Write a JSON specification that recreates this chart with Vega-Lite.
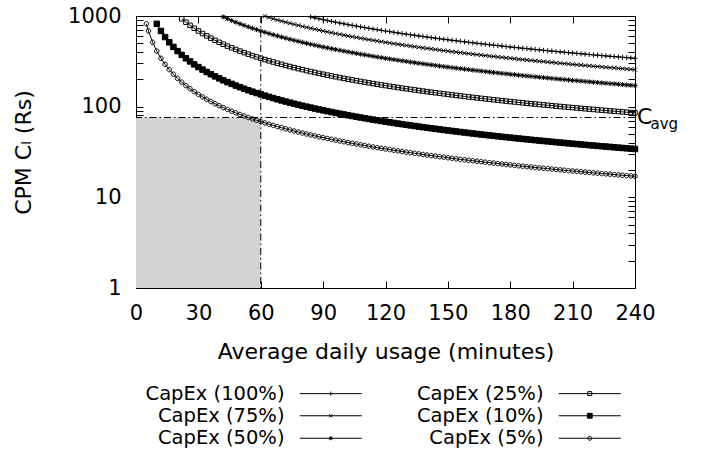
{
  "$schema": "https://vega.github.io/schema/vega-lite/v6.json",
  "width": 499,
  "height": 272,
  "autosize": {"type": "none"},
  "padding": {"left": 136, "top": 16, "right": 69, "bottom": 164},
  "config": {
    "font": "DejaVu Sans",
    "view": {"stroke": "black", "strokeWidth": 1},
    "axis": {"grid": false, "domain": false, "tickColor": "black", "tickWidth": 1, "labelColor": "black", "titleColor": "black", "labelFont": "DejaVu Sans", "titleFont": "DejaVu Sans", "labelFontSize": 21, "titleFontSize": 22, "titleFontWeight": "normal", "labelOverlap": false, "labelFlush": false}
  },
  "datasets": {
    "refs": [{"x0": 0, "x1": 60, "y0": 1, "y1": 76}],
    "note": [{"x": 240, "y": 76, "t": "C", "sub": "avg"}],
    "curves": [
      {"s":"CapEx (5%)","x":5,"y":820},{"s":"CapEx (5%)","x":6,"y":683.3},{"s":"CapEx (5%)","x":8,"y":512.5},{"s":"CapEx (5%)","x":10,"y":410},{"s":"CapEx (5%)","x":12,"y":341.7},{"s":"CapEx (5%)","x":14,"y":292.9},{"s":"CapEx (5%)","x":16,"y":256.3},{"s":"CapEx (5%)","x":18,"y":227.8},{"s":"CapEx (5%)","x":20,"y":205},{"s":"CapEx (5%)","x":22,"y":186.4},{"s":"CapEx (5%)","x":24,"y":170.8},{"s":"CapEx (5%)","x":26,"y":157.7},{"s":"CapEx (5%)","x":28,"y":146.4},{"s":"CapEx (5%)","x":30,"y":136.7},{"s":"CapEx (5%)","x":32,"y":128.1},{"s":"CapEx (5%)","x":34,"y":120.6},{"s":"CapEx (5%)","x":36,"y":113.9},{"s":"CapEx (5%)","x":38,"y":107.9},{"s":"CapEx (5%)","x":40,"y":102.5},{"s":"CapEx (5%)","x":42,"y":97.62},{"s":"CapEx (5%)","x":44,"y":93.18},{"s":"CapEx (5%)","x":46,"y":89.13},{"s":"CapEx (5%)","x":48,"y":85.42},{"s":"CapEx (5%)","x":50,"y":82},{"s":"CapEx (5%)","x":52,"y":78.85},{"s":"CapEx (5%)","x":54,"y":75.93},{"s":"CapEx (5%)","x":56,"y":73.21},{"s":"CapEx (5%)","x":58,"y":70.69},{"s":"CapEx (5%)","x":60,"y":68.33},{"s":"CapEx (5%)","x":62,"y":66.13},{"s":"CapEx (5%)","x":64,"y":64.06},{"s":"CapEx (5%)","x":66,"y":62.12},{"s":"CapEx (5%)","x":68,"y":60.29},{"s":"CapEx (5%)","x":70,"y":58.57},{"s":"CapEx (5%)","x":72,"y":56.94},{"s":"CapEx (5%)","x":74,"y":55.41},{"s":"CapEx (5%)","x":76,"y":53.95},{"s":"CapEx (5%)","x":78,"y":52.56},{"s":"CapEx (5%)","x":80,"y":51.25},{"s":"CapEx (5%)","x":82,"y":50},{"s":"CapEx (5%)","x":84,"y":48.81},{"s":"CapEx (5%)","x":86,"y":47.67},{"s":"CapEx (5%)","x":88,"y":46.59},{"s":"CapEx (5%)","x":90,"y":45.56},{"s":"CapEx (5%)","x":92,"y":44.57},{"s":"CapEx (5%)","x":94,"y":43.62},{"s":"CapEx (5%)","x":96,"y":42.71},{"s":"CapEx (5%)","x":98,"y":41.84},{"s":"CapEx (5%)","x":100,"y":41},{"s":"CapEx (5%)","x":102,"y":40.2},{"s":"CapEx (5%)","x":104,"y":39.42},{"s":"CapEx (5%)","x":106,"y":38.68},{"s":"CapEx (5%)","x":108,"y":37.96},{"s":"CapEx (5%)","x":110,"y":37.27},{"s":"CapEx (5%)","x":112,"y":36.61},{"s":"CapEx (5%)","x":114,"y":35.96},{"s":"CapEx (5%)","x":116,"y":35.34},{"s":"CapEx (5%)","x":118,"y":34.75},{"s":"CapEx (5%)","x":120,"y":34.17},{"s":"CapEx (5%)","x":122,"y":33.61},{"s":"CapEx (5%)","x":124,"y":33.06},{"s":"CapEx (5%)","x":126,"y":32.54},{"s":"CapEx (5%)","x":128,"y":32.03},{"s":"CapEx (5%)","x":130,"y":31.54},{"s":"CapEx (5%)","x":132,"y":31.06},{"s":"CapEx (5%)","x":134,"y":30.6},{"s":"CapEx (5%)","x":136,"y":30.15},{"s":"CapEx (5%)","x":138,"y":29.71},{"s":"CapEx (5%)","x":140,"y":29.29},{"s":"CapEx (5%)","x":142,"y":28.87},{"s":"CapEx (5%)","x":144,"y":28.47},{"s":"CapEx (5%)","x":146,"y":28.08},{"s":"CapEx (5%)","x":148,"y":27.7},{"s":"CapEx (5%)","x":150,"y":27.33},{"s":"CapEx (5%)","x":152,"y":26.97},{"s":"CapEx (5%)","x":154,"y":26.62},{"s":"CapEx (5%)","x":156,"y":26.28},{"s":"CapEx (5%)","x":158,"y":25.95},{"s":"CapEx (5%)","x":160,"y":25.63},{"s":"CapEx (5%)","x":162,"y":25.31},{"s":"CapEx (5%)","x":164,"y":25},{"s":"CapEx (5%)","x":166,"y":24.7},{"s":"CapEx (5%)","x":168,"y":24.4},{"s":"CapEx (5%)","x":170,"y":24.12},{"s":"CapEx (5%)","x":172,"y":23.84},{"s":"CapEx (5%)","x":174,"y":23.56},{"s":"CapEx (5%)","x":176,"y":23.3},{"s":"CapEx (5%)","x":178,"y":23.03},{"s":"CapEx (5%)","x":180,"y":22.78},{"s":"CapEx (5%)","x":182,"y":22.53},{"s":"CapEx (5%)","x":184,"y":22.28},{"s":"CapEx (5%)","x":186,"y":22.04},{"s":"CapEx (5%)","x":188,"y":21.81},{"s":"CapEx (5%)","x":190,"y":21.58},{"s":"CapEx (5%)","x":192,"y":21.35},{"s":"CapEx (5%)","x":194,"y":21.13},{"s":"CapEx (5%)","x":196,"y":20.92},{"s":"CapEx (5%)","x":198,"y":20.71},{"s":"CapEx (5%)","x":200,"y":20.5},{"s":"CapEx (5%)","x":202,"y":20.3},{"s":"CapEx (5%)","x":204,"y":20.1},{"s":"CapEx (5%)","x":206,"y":19.9},{"s":"CapEx (5%)","x":208,"y":19.71},{"s":"CapEx (5%)","x":210,"y":19.52},{"s":"CapEx (5%)","x":212,"y":19.34},{"s":"CapEx (5%)","x":214,"y":19.16},{"s":"CapEx (5%)","x":216,"y":18.98},{"s":"CapEx (5%)","x":218,"y":18.81},{"s":"CapEx (5%)","x":220,"y":18.64},{"s":"CapEx (5%)","x":222,"y":18.47},{"s":"CapEx (5%)","x":224,"y":18.3},{"s":"CapEx (5%)","x":226,"y":18.14},{"s":"CapEx (5%)","x":228,"y":17.98},{"s":"CapEx (5%)","x":230,"y":17.83},{"s":"CapEx (5%)","x":232,"y":17.67},{"s":"CapEx (5%)","x":234,"y":17.52},{"s":"CapEx (5%)","x":236,"y":17.37},{"s":"CapEx (5%)","x":238,"y":17.23},{"s":"CapEx (5%)","x":240,"y":17.08},
      {"s":"CapEx (10%)","x":10,"y":820},{"s":"CapEx (10%)","x":12,"y":683.3},{"s":"CapEx (10%)","x":14,"y":585.7},{"s":"CapEx (10%)","x":16,"y":512.5},{"s":"CapEx (10%)","x":18,"y":455.6},{"s":"CapEx (10%)","x":20,"y":410},{"s":"CapEx (10%)","x":22,"y":372.7},{"s":"CapEx (10%)","x":24,"y":341.7},{"s":"CapEx (10%)","x":26,"y":315.4},{"s":"CapEx (10%)","x":28,"y":292.9},{"s":"CapEx (10%)","x":30,"y":273.3},{"s":"CapEx (10%)","x":32,"y":256.3},{"s":"CapEx (10%)","x":34,"y":241.2},{"s":"CapEx (10%)","x":36,"y":227.8},{"s":"CapEx (10%)","x":38,"y":215.8},{"s":"CapEx (10%)","x":40,"y":205},{"s":"CapEx (10%)","x":42,"y":195.2},{"s":"CapEx (10%)","x":44,"y":186.4},{"s":"CapEx (10%)","x":46,"y":178.3},{"s":"CapEx (10%)","x":48,"y":170.8},{"s":"CapEx (10%)","x":50,"y":164},{"s":"CapEx (10%)","x":52,"y":157.7},{"s":"CapEx (10%)","x":54,"y":151.9},{"s":"CapEx (10%)","x":56,"y":146.4},{"s":"CapEx (10%)","x":58,"y":141.4},{"s":"CapEx (10%)","x":60,"y":136.7},{"s":"CapEx (10%)","x":62,"y":132.3},{"s":"CapEx (10%)","x":64,"y":128.1},{"s":"CapEx (10%)","x":66,"y":124.2},{"s":"CapEx (10%)","x":68,"y":120.6},{"s":"CapEx (10%)","x":70,"y":117.1},{"s":"CapEx (10%)","x":72,"y":113.9},{"s":"CapEx (10%)","x":74,"y":110.8},{"s":"CapEx (10%)","x":76,"y":107.9},{"s":"CapEx (10%)","x":78,"y":105.1},{"s":"CapEx (10%)","x":80,"y":102.5},{"s":"CapEx (10%)","x":82,"y":100},{"s":"CapEx (10%)","x":84,"y":97.62},{"s":"CapEx (10%)","x":86,"y":95.35},{"s":"CapEx (10%)","x":88,"y":93.18},{"s":"CapEx (10%)","x":90,"y":91.11},{"s":"CapEx (10%)","x":92,"y":89.13},{"s":"CapEx (10%)","x":94,"y":87.23},{"s":"CapEx (10%)","x":96,"y":85.42},{"s":"CapEx (10%)","x":98,"y":83.67},{"s":"CapEx (10%)","x":100,"y":82},{"s":"CapEx (10%)","x":102,"y":80.39},{"s":"CapEx (10%)","x":104,"y":78.85},{"s":"CapEx (10%)","x":106,"y":77.36},{"s":"CapEx (10%)","x":108,"y":75.93},{"s":"CapEx (10%)","x":110,"y":74.55},{"s":"CapEx (10%)","x":112,"y":73.21},{"s":"CapEx (10%)","x":114,"y":71.93},{"s":"CapEx (10%)","x":116,"y":70.69},{"s":"CapEx (10%)","x":118,"y":69.49},{"s":"CapEx (10%)","x":120,"y":68.33},{"s":"CapEx (10%)","x":122,"y":67.21},{"s":"CapEx (10%)","x":124,"y":66.13},{"s":"CapEx (10%)","x":126,"y":65.08},{"s":"CapEx (10%)","x":128,"y":64.06},{"s":"CapEx (10%)","x":130,"y":63.08},{"s":"CapEx (10%)","x":132,"y":62.12},{"s":"CapEx (10%)","x":134,"y":61.19},{"s":"CapEx (10%)","x":136,"y":60.29},{"s":"CapEx (10%)","x":138,"y":59.42},{"s":"CapEx (10%)","x":140,"y":58.57},{"s":"CapEx (10%)","x":142,"y":57.75},{"s":"CapEx (10%)","x":144,"y":56.94},{"s":"CapEx (10%)","x":146,"y":56.16},{"s":"CapEx (10%)","x":148,"y":55.41},{"s":"CapEx (10%)","x":150,"y":54.67},{"s":"CapEx (10%)","x":152,"y":53.95},{"s":"CapEx (10%)","x":154,"y":53.25},{"s":"CapEx (10%)","x":156,"y":52.56},{"s":"CapEx (10%)","x":158,"y":51.9},{"s":"CapEx (10%)","x":160,"y":51.25},{"s":"CapEx (10%)","x":162,"y":50.62},{"s":"CapEx (10%)","x":164,"y":50},{"s":"CapEx (10%)","x":166,"y":49.4},{"s":"CapEx (10%)","x":168,"y":48.81},{"s":"CapEx (10%)","x":170,"y":48.24},{"s":"CapEx (10%)","x":172,"y":47.67},{"s":"CapEx (10%)","x":174,"y":47.13},{"s":"CapEx (10%)","x":176,"y":46.59},{"s":"CapEx (10%)","x":178,"y":46.07},{"s":"CapEx (10%)","x":180,"y":45.56},{"s":"CapEx (10%)","x":182,"y":45.05},{"s":"CapEx (10%)","x":184,"y":44.57},{"s":"CapEx (10%)","x":186,"y":44.09},{"s":"CapEx (10%)","x":188,"y":43.62},{"s":"CapEx (10%)","x":190,"y":43.16},{"s":"CapEx (10%)","x":192,"y":42.71},{"s":"CapEx (10%)","x":194,"y":42.27},{"s":"CapEx (10%)","x":196,"y":41.84},{"s":"CapEx (10%)","x":198,"y":41.41},{"s":"CapEx (10%)","x":200,"y":41},{"s":"CapEx (10%)","x":202,"y":40.59},{"s":"CapEx (10%)","x":204,"y":40.2},{"s":"CapEx (10%)","x":206,"y":39.81},{"s":"CapEx (10%)","x":208,"y":39.42},{"s":"CapEx (10%)","x":210,"y":39.05},{"s":"CapEx (10%)","x":212,"y":38.68},{"s":"CapEx (10%)","x":214,"y":38.32},{"s":"CapEx (10%)","x":216,"y":37.96},{"s":"CapEx (10%)","x":218,"y":37.61},{"s":"CapEx (10%)","x":220,"y":37.27},{"s":"CapEx (10%)","x":222,"y":36.94},{"s":"CapEx (10%)","x":224,"y":36.61},{"s":"CapEx (10%)","x":226,"y":36.28},{"s":"CapEx (10%)","x":228,"y":35.96},{"s":"CapEx (10%)","x":230,"y":35.65},{"s":"CapEx (10%)","x":232,"y":35.34},{"s":"CapEx (10%)","x":234,"y":35.04},{"s":"CapEx (10%)","x":236,"y":34.75},{"s":"CapEx (10%)","x":238,"y":34.45},{"s":"CapEx (10%)","x":240,"y":34.17},
      {"s":"CapEx (25%)","x":22,"y":931.8},{"s":"CapEx (25%)","x":24,"y":854.2},{"s":"CapEx (25%)","x":26,"y":788.5},{"s":"CapEx (25%)","x":28,"y":732.1},{"s":"CapEx (25%)","x":30,"y":683.3},{"s":"CapEx (25%)","x":32,"y":640.6},{"s":"CapEx (25%)","x":34,"y":603},{"s":"CapEx (25%)","x":36,"y":569.4},{"s":"CapEx (25%)","x":38,"y":539.5},{"s":"CapEx (25%)","x":40,"y":512.5},{"s":"CapEx (25%)","x":42,"y":488.1},{"s":"CapEx (25%)","x":44,"y":465.9},{"s":"CapEx (25%)","x":46,"y":445.7},{"s":"CapEx (25%)","x":48,"y":427.1},{"s":"CapEx (25%)","x":50,"y":410},{"s":"CapEx (25%)","x":52,"y":394.2},{"s":"CapEx (25%)","x":54,"y":379.6},{"s":"CapEx (25%)","x":56,"y":366.1},{"s":"CapEx (25%)","x":58,"y":353.4},{"s":"CapEx (25%)","x":60,"y":341.7},{"s":"CapEx (25%)","x":62,"y":330.6},{"s":"CapEx (25%)","x":64,"y":320.3},{"s":"CapEx (25%)","x":66,"y":310.6},{"s":"CapEx (25%)","x":68,"y":301.5},{"s":"CapEx (25%)","x":70,"y":292.9},{"s":"CapEx (25%)","x":72,"y":284.7},{"s":"CapEx (25%)","x":74,"y":277},{"s":"CapEx (25%)","x":76,"y":269.7},{"s":"CapEx (25%)","x":78,"y":262.8},{"s":"CapEx (25%)","x":80,"y":256.3},{"s":"CapEx (25%)","x":82,"y":250},{"s":"CapEx (25%)","x":84,"y":244},{"s":"CapEx (25%)","x":86,"y":238.4},{"s":"CapEx (25%)","x":88,"y":233},{"s":"CapEx (25%)","x":90,"y":227.8},{"s":"CapEx (25%)","x":92,"y":222.8},{"s":"CapEx (25%)","x":94,"y":218.1},{"s":"CapEx (25%)","x":96,"y":213.5},{"s":"CapEx (25%)","x":98,"y":209.2},{"s":"CapEx (25%)","x":100,"y":205},{"s":"CapEx (25%)","x":102,"y":201},{"s":"CapEx (25%)","x":104,"y":197.1},{"s":"CapEx (25%)","x":106,"y":193.4},{"s":"CapEx (25%)","x":108,"y":189.8},{"s":"CapEx (25%)","x":110,"y":186.4},{"s":"CapEx (25%)","x":112,"y":183},{"s":"CapEx (25%)","x":114,"y":179.8},{"s":"CapEx (25%)","x":116,"y":176.7},{"s":"CapEx (25%)","x":118,"y":173.7},{"s":"CapEx (25%)","x":120,"y":170.8},{"s":"CapEx (25%)","x":122,"y":168},{"s":"CapEx (25%)","x":124,"y":165.3},{"s":"CapEx (25%)","x":126,"y":162.7},{"s":"CapEx (25%)","x":128,"y":160.2},{"s":"CapEx (25%)","x":130,"y":157.7},{"s":"CapEx (25%)","x":132,"y":155.3},{"s":"CapEx (25%)","x":134,"y":153},{"s":"CapEx (25%)","x":136,"y":150.7},{"s":"CapEx (25%)","x":138,"y":148.6},{"s":"CapEx (25%)","x":140,"y":146.4},{"s":"CapEx (25%)","x":142,"y":144.4},{"s":"CapEx (25%)","x":144,"y":142.4},{"s":"CapEx (25%)","x":146,"y":140.4},{"s":"CapEx (25%)","x":148,"y":138.5},{"s":"CapEx (25%)","x":150,"y":136.7},{"s":"CapEx (25%)","x":152,"y":134.9},{"s":"CapEx (25%)","x":154,"y":133.1},{"s":"CapEx (25%)","x":156,"y":131.4},{"s":"CapEx (25%)","x":158,"y":129.7},{"s":"CapEx (25%)","x":160,"y":128.1},{"s":"CapEx (25%)","x":162,"y":126.5},{"s":"CapEx (25%)","x":164,"y":125},{"s":"CapEx (25%)","x":166,"y":123.5},{"s":"CapEx (25%)","x":168,"y":122},{"s":"CapEx (25%)","x":170,"y":120.6},{"s":"CapEx (25%)","x":172,"y":119.2},{"s":"CapEx (25%)","x":174,"y":117.8},{"s":"CapEx (25%)","x":176,"y":116.5},{"s":"CapEx (25%)","x":178,"y":115.2},{"s":"CapEx (25%)","x":180,"y":113.9},{"s":"CapEx (25%)","x":182,"y":112.6},{"s":"CapEx (25%)","x":184,"y":111.4},{"s":"CapEx (25%)","x":186,"y":110.2},{"s":"CapEx (25%)","x":188,"y":109},{"s":"CapEx (25%)","x":190,"y":107.9},{"s":"CapEx (25%)","x":192,"y":106.8},{"s":"CapEx (25%)","x":194,"y":105.7},{"s":"CapEx (25%)","x":196,"y":104.6},{"s":"CapEx (25%)","x":198,"y":103.5},{"s":"CapEx (25%)","x":200,"y":102.5},{"s":"CapEx (25%)","x":202,"y":101.5},{"s":"CapEx (25%)","x":204,"y":100.5},{"s":"CapEx (25%)","x":206,"y":99.51},{"s":"CapEx (25%)","x":208,"y":98.56},{"s":"CapEx (25%)","x":210,"y":97.62},{"s":"CapEx (25%)","x":212,"y":96.7},{"s":"CapEx (25%)","x":214,"y":95.79},{"s":"CapEx (25%)","x":216,"y":94.91},{"s":"CapEx (25%)","x":218,"y":94.04},{"s":"CapEx (25%)","x":220,"y":93.18},{"s":"CapEx (25%)","x":222,"y":92.34},{"s":"CapEx (25%)","x":224,"y":91.52},{"s":"CapEx (25%)","x":226,"y":90.71},{"s":"CapEx (25%)","x":228,"y":89.91},{"s":"CapEx (25%)","x":230,"y":89.13},{"s":"CapEx (25%)","x":232,"y":88.36},{"s":"CapEx (25%)","x":234,"y":87.61},{"s":"CapEx (25%)","x":236,"y":86.86},{"s":"CapEx (25%)","x":238,"y":86.13},{"s":"CapEx (25%)","x":240,"y":85.42},
      {"s":"CapEx (50%)","x":42,"y":976.2},{"s":"CapEx (50%)","x":44,"y":931.8},{"s":"CapEx (50%)","x":46,"y":891.3},{"s":"CapEx (50%)","x":48,"y":854.2},{"s":"CapEx (50%)","x":50,"y":820},{"s":"CapEx (50%)","x":52,"y":788.5},{"s":"CapEx (50%)","x":54,"y":759.3},{"s":"CapEx (50%)","x":56,"y":732.1},{"s":"CapEx (50%)","x":58,"y":706.9},{"s":"CapEx (50%)","x":60,"y":683.3},{"s":"CapEx (50%)","x":62,"y":661.3},{"s":"CapEx (50%)","x":64,"y":640.6},{"s":"CapEx (50%)","x":66,"y":621.2},{"s":"CapEx (50%)","x":68,"y":602.9},{"s":"CapEx (50%)","x":70,"y":585.7},{"s":"CapEx (50%)","x":72,"y":569.4},{"s":"CapEx (50%)","x":74,"y":554.1},{"s":"CapEx (50%)","x":76,"y":539.5},{"s":"CapEx (50%)","x":78,"y":525.6},{"s":"CapEx (50%)","x":80,"y":512.5},{"s":"CapEx (50%)","x":82,"y":500},{"s":"CapEx (50%)","x":84,"y":488.1},{"s":"CapEx (50%)","x":86,"y":476.7},{"s":"CapEx (50%)","x":88,"y":465.9},{"s":"CapEx (50%)","x":90,"y":455.6},{"s":"CapEx (50%)","x":92,"y":445.7},{"s":"CapEx (50%)","x":94,"y":436.2},{"s":"CapEx (50%)","x":96,"y":427.1},{"s":"CapEx (50%)","x":98,"y":418.4},{"s":"CapEx (50%)","x":100,"y":410},{"s":"CapEx (50%)","x":102,"y":402},{"s":"CapEx (50%)","x":104,"y":394.2},{"s":"CapEx (50%)","x":106,"y":386.8},{"s":"CapEx (50%)","x":108,"y":379.6},{"s":"CapEx (50%)","x":110,"y":372.7},{"s":"CapEx (50%)","x":112,"y":366.1},{"s":"CapEx (50%)","x":114,"y":359.6},{"s":"CapEx (50%)","x":116,"y":353.4},{"s":"CapEx (50%)","x":118,"y":347.5},{"s":"CapEx (50%)","x":120,"y":341.7},{"s":"CapEx (50%)","x":122,"y":336.1},{"s":"CapEx (50%)","x":124,"y":330.6},{"s":"CapEx (50%)","x":126,"y":325.4},{"s":"CapEx (50%)","x":128,"y":320.3},{"s":"CapEx (50%)","x":130,"y":315.4},{"s":"CapEx (50%)","x":132,"y":310.6},{"s":"CapEx (50%)","x":134,"y":306},{"s":"CapEx (50%)","x":136,"y":301.5},{"s":"CapEx (50%)","x":138,"y":297.1},{"s":"CapEx (50%)","x":140,"y":292.9},{"s":"CapEx (50%)","x":142,"y":288.7},{"s":"CapEx (50%)","x":144,"y":284.7},{"s":"CapEx (50%)","x":146,"y":280.8},{"s":"CapEx (50%)","x":148,"y":277},{"s":"CapEx (50%)","x":150,"y":273.3},{"s":"CapEx (50%)","x":152,"y":269.7},{"s":"CapEx (50%)","x":154,"y":266.2},{"s":"CapEx (50%)","x":156,"y":262.8},{"s":"CapEx (50%)","x":158,"y":259.5},{"s":"CapEx (50%)","x":160,"y":256.3},{"s":"CapEx (50%)","x":162,"y":253.1},{"s":"CapEx (50%)","x":164,"y":250},{"s":"CapEx (50%)","x":166,"y":247},{"s":"CapEx (50%)","x":168,"y":244},{"s":"CapEx (50%)","x":170,"y":241.2},{"s":"CapEx (50%)","x":172,"y":238.4},{"s":"CapEx (50%)","x":174,"y":235.6},{"s":"CapEx (50%)","x":176,"y":233},{"s":"CapEx (50%)","x":178,"y":230.3},{"s":"CapEx (50%)","x":180,"y":227.8},{"s":"CapEx (50%)","x":182,"y":225.3},{"s":"CapEx (50%)","x":184,"y":222.8},{"s":"CapEx (50%)","x":186,"y":220.4},{"s":"CapEx (50%)","x":188,"y":218.1},{"s":"CapEx (50%)","x":190,"y":215.8},{"s":"CapEx (50%)","x":192,"y":213.5},{"s":"CapEx (50%)","x":194,"y":211.3},{"s":"CapEx (50%)","x":196,"y":209.2},{"s":"CapEx (50%)","x":198,"y":207.1},{"s":"CapEx (50%)","x":200,"y":205},{"s":"CapEx (50%)","x":202,"y":203},{"s":"CapEx (50%)","x":204,"y":201},{"s":"CapEx (50%)","x":206,"y":199},{"s":"CapEx (50%)","x":208,"y":197.1},{"s":"CapEx (50%)","x":210,"y":195.2},{"s":"CapEx (50%)","x":212,"y":193.4},{"s":"CapEx (50%)","x":214,"y":191.6},{"s":"CapEx (50%)","x":216,"y":189.8},{"s":"CapEx (50%)","x":218,"y":188.1},{"s":"CapEx (50%)","x":220,"y":186.4},{"s":"CapEx (50%)","x":222,"y":184.7},{"s":"CapEx (50%)","x":224,"y":183},{"s":"CapEx (50%)","x":226,"y":181.4},{"s":"CapEx (50%)","x":228,"y":179.8},{"s":"CapEx (50%)","x":230,"y":178.3},{"s":"CapEx (50%)","x":232,"y":176.7},{"s":"CapEx (50%)","x":234,"y":175.2},{"s":"CapEx (50%)","x":236,"y":173.7},{"s":"CapEx (50%)","x":238,"y":172.3},{"s":"CapEx (50%)","x":240,"y":170.8},
      {"s":"CapEx (75%)","x":62,"y":991.9},{"s":"CapEx (75%)","x":64,"y":960.9},{"s":"CapEx (75%)","x":66,"y":931.8},{"s":"CapEx (75%)","x":68,"y":904.4},{"s":"CapEx (75%)","x":70,"y":878.6},{"s":"CapEx (75%)","x":72,"y":854.2},{"s":"CapEx (75%)","x":74,"y":831.1},{"s":"CapEx (75%)","x":76,"y":809.2},{"s":"CapEx (75%)","x":78,"y":788.5},{"s":"CapEx (75%)","x":80,"y":768.8},{"s":"CapEx (75%)","x":82,"y":750},{"s":"CapEx (75%)","x":84,"y":732.1},{"s":"CapEx (75%)","x":86,"y":715.1},{"s":"CapEx (75%)","x":88,"y":698.9},{"s":"CapEx (75%)","x":90,"y":683.3},{"s":"CapEx (75%)","x":92,"y":668.5},{"s":"CapEx (75%)","x":94,"y":654.3},{"s":"CapEx (75%)","x":96,"y":640.6},{"s":"CapEx (75%)","x":98,"y":627.6},{"s":"CapEx (75%)","x":100,"y":615},{"s":"CapEx (75%)","x":102,"y":602.9},{"s":"CapEx (75%)","x":104,"y":591.3},{"s":"CapEx (75%)","x":106,"y":580.2},{"s":"CapEx (75%)","x":108,"y":569.4},{"s":"CapEx (75%)","x":110,"y":559.1},{"s":"CapEx (75%)","x":112,"y":549.1},{"s":"CapEx (75%)","x":114,"y":539.5},{"s":"CapEx (75%)","x":116,"y":530.2},{"s":"CapEx (75%)","x":118,"y":521.2},{"s":"CapEx (75%)","x":120,"y":512.5},{"s":"CapEx (75%)","x":122,"y":504.1},{"s":"CapEx (75%)","x":124,"y":496},{"s":"CapEx (75%)","x":126,"y":488.1},{"s":"CapEx (75%)","x":128,"y":480.5},{"s":"CapEx (75%)","x":130,"y":473.1},{"s":"CapEx (75%)","x":132,"y":465.9},{"s":"CapEx (75%)","x":134,"y":459},{"s":"CapEx (75%)","x":136,"y":452.2},{"s":"CapEx (75%)","x":138,"y":445.7},{"s":"CapEx (75%)","x":140,"y":439.3},{"s":"CapEx (75%)","x":142,"y":433.1},{"s":"CapEx (75%)","x":144,"y":427.1},{"s":"CapEx (75%)","x":146,"y":421.2},{"s":"CapEx (75%)","x":148,"y":415.5},{"s":"CapEx (75%)","x":150,"y":410},{"s":"CapEx (75%)","x":152,"y":404.6},{"s":"CapEx (75%)","x":154,"y":399.4},{"s":"CapEx (75%)","x":156,"y":394.2},{"s":"CapEx (75%)","x":158,"y":389.2},{"s":"CapEx (75%)","x":160,"y":384.4},{"s":"CapEx (75%)","x":162,"y":379.6},{"s":"CapEx (75%)","x":164,"y":375},{"s":"CapEx (75%)","x":166,"y":370.5},{"s":"CapEx (75%)","x":168,"y":366.1},{"s":"CapEx (75%)","x":170,"y":361.8},{"s":"CapEx (75%)","x":172,"y":357.6},{"s":"CapEx (75%)","x":174,"y":353.4},{"s":"CapEx (75%)","x":176,"y":349.4},{"s":"CapEx (75%)","x":178,"y":345.5},{"s":"CapEx (75%)","x":180,"y":341.7},{"s":"CapEx (75%)","x":182,"y":337.9},{"s":"CapEx (75%)","x":184,"y":334.2},{"s":"CapEx (75%)","x":186,"y":330.6},{"s":"CapEx (75%)","x":188,"y":327.1},{"s":"CapEx (75%)","x":190,"y":323.7},{"s":"CapEx (75%)","x":192,"y":320.3},{"s":"CapEx (75%)","x":194,"y":317},{"s":"CapEx (75%)","x":196,"y":313.8},{"s":"CapEx (75%)","x":198,"y":310.6},{"s":"CapEx (75%)","x":200,"y":307.5},{"s":"CapEx (75%)","x":202,"y":304.5},{"s":"CapEx (75%)","x":204,"y":301.5},{"s":"CapEx (75%)","x":206,"y":298.5},{"s":"CapEx (75%)","x":208,"y":295.7},{"s":"CapEx (75%)","x":210,"y":292.9},{"s":"CapEx (75%)","x":212,"y":290.1},{"s":"CapEx (75%)","x":214,"y":287.4},{"s":"CapEx (75%)","x":216,"y":284.7},{"s":"CapEx (75%)","x":218,"y":282.1},{"s":"CapEx (75%)","x":220,"y":279.5},{"s":"CapEx (75%)","x":222,"y":277},{"s":"CapEx (75%)","x":224,"y":274.6},{"s":"CapEx (75%)","x":226,"y":272.1},{"s":"CapEx (75%)","x":228,"y":269.7},{"s":"CapEx (75%)","x":230,"y":267.4},{"s":"CapEx (75%)","x":232,"y":265.1},{"s":"CapEx (75%)","x":234,"y":262.8},{"s":"CapEx (75%)","x":236,"y":260.6},{"s":"CapEx (75%)","x":238,"y":258.4},{"s":"CapEx (75%)","x":240,"y":256.3},
      {"s":"CapEx (100%)","x":84,"y":976.2},{"s":"CapEx (100%)","x":86,"y":953.5},{"s":"CapEx (100%)","x":88,"y":931.8},{"s":"CapEx (100%)","x":90,"y":911.1},{"s":"CapEx (100%)","x":92,"y":891.3},{"s":"CapEx (100%)","x":94,"y":872.3},{"s":"CapEx (100%)","x":96,"y":854.2},{"s":"CapEx (100%)","x":98,"y":836.7},{"s":"CapEx (100%)","x":100,"y":820},{"s":"CapEx (100%)","x":102,"y":803.9},{"s":"CapEx (100%)","x":104,"y":788.5},{"s":"CapEx (100%)","x":106,"y":773.6},{"s":"CapEx (100%)","x":108,"y":759.3},{"s":"CapEx (100%)","x":110,"y":745.5},{"s":"CapEx (100%)","x":112,"y":732.1},{"s":"CapEx (100%)","x":114,"y":719.3},{"s":"CapEx (100%)","x":116,"y":706.9},{"s":"CapEx (100%)","x":118,"y":694.9},{"s":"CapEx (100%)","x":120,"y":683.3},{"s":"CapEx (100%)","x":122,"y":672.1},{"s":"CapEx (100%)","x":124,"y":661.3},{"s":"CapEx (100%)","x":126,"y":650.8},{"s":"CapEx (100%)","x":128,"y":640.6},{"s":"CapEx (100%)","x":130,"y":630.8},{"s":"CapEx (100%)","x":132,"y":621.2},{"s":"CapEx (100%)","x":134,"y":611.9},{"s":"CapEx (100%)","x":136,"y":602.9},{"s":"CapEx (100%)","x":138,"y":594.2},{"s":"CapEx (100%)","x":140,"y":585.7},{"s":"CapEx (100%)","x":142,"y":577.5},{"s":"CapEx (100%)","x":144,"y":569.4},{"s":"CapEx (100%)","x":146,"y":561.6},{"s":"CapEx (100%)","x":148,"y":554.1},{"s":"CapEx (100%)","x":150,"y":546.7},{"s":"CapEx (100%)","x":152,"y":539.5},{"s":"CapEx (100%)","x":154,"y":532.5},{"s":"CapEx (100%)","x":156,"y":525.6},{"s":"CapEx (100%)","x":158,"y":519},{"s":"CapEx (100%)","x":160,"y":512.5},{"s":"CapEx (100%)","x":162,"y":506.2},{"s":"CapEx (100%)","x":164,"y":500},{"s":"CapEx (100%)","x":166,"y":494},{"s":"CapEx (100%)","x":168,"y":488.1},{"s":"CapEx (100%)","x":170,"y":482.4},{"s":"CapEx (100%)","x":172,"y":476.7},{"s":"CapEx (100%)","x":174,"y":471.3},{"s":"CapEx (100%)","x":176,"y":465.9},{"s":"CapEx (100%)","x":178,"y":460.7},{"s":"CapEx (100%)","x":180,"y":455.6},{"s":"CapEx (100%)","x":182,"y":450.5},{"s":"CapEx (100%)","x":184,"y":445.7},{"s":"CapEx (100%)","x":186,"y":440.9},{"s":"CapEx (100%)","x":188,"y":436.2},{"s":"CapEx (100%)","x":190,"y":431.6},{"s":"CapEx (100%)","x":192,"y":427.1},{"s":"CapEx (100%)","x":194,"y":422.7},{"s":"CapEx (100%)","x":196,"y":418.4},{"s":"CapEx (100%)","x":198,"y":414.1},{"s":"CapEx (100%)","x":200,"y":410},{"s":"CapEx (100%)","x":202,"y":405.9},{"s":"CapEx (100%)","x":204,"y":402},{"s":"CapEx (100%)","x":206,"y":398.1},{"s":"CapEx (100%)","x":208,"y":394.2},{"s":"CapEx (100%)","x":210,"y":390.5},{"s":"CapEx (100%)","x":212,"y":386.8},{"s":"CapEx (100%)","x":214,"y":383.2},{"s":"CapEx (100%)","x":216,"y":379.6},{"s":"CapEx (100%)","x":218,"y":376.1},{"s":"CapEx (100%)","x":220,"y":372.7},{"s":"CapEx (100%)","x":222,"y":369.4},{"s":"CapEx (100%)","x":224,"y":366.1},{"s":"CapEx (100%)","x":226,"y":362.8},{"s":"CapEx (100%)","x":228,"y":359.6},{"s":"CapEx (100%)","x":230,"y":356.5},{"s":"CapEx (100%)","x":232,"y":353.4},{"s":"CapEx (100%)","x":234,"y":350.4},{"s":"CapEx (100%)","x":236,"y":347.5},{"s":"CapEx (100%)","x":238,"y":344.5},{"s":"CapEx (100%)","x":240,"y":341.7}
    ]
  },
  "resolve": {"axis": {"x": "independent", "y": "independent"}, "scale": {"shape": "independent", "fill": "independent", "stroke": "independent"}},
  "layer": [
    {
      "data": {"name": "refs"},
      "mark": {"type": "rect", "fill": "#d3d3d3"},
      "encoding": {
        "x": {"field": "x0", "type": "quantitative", "scale": {"domain": [0, 240], "nice": false, "zero": false},
              "axis": {"orient": "bottom", "values": [0, 30, 60, 90, 120, 150, 180, 210, 240], "format": "d", "tickSize": -7, "labelPadding": 21, "title": "Average daily usage (minutes)", "titlePadding": 18}},
        "x2": {"field": "x1"},
        "y": {"field": "y0", "type": "quantitative", "scale": {"type": "log", "domain": [1, 1000], "nice": false},
              "axis": {"orient": "left", "values": [1,2,3,4,5,6,7,8,9,10,20,30,40,50,60,70,80,90,100,200,300,400,500,600,700,800,900,1000],
                       "labelExpr": "indexof([1,10,100,1000], datum.value) >= 0 ? format(datum.value, 'd') : ''",
                       "tickSize": -7, "labelPadding": 22, "title": "CPM Cₗ (Rs)", "titlePadding": 32,
                       "encode": {"ticks": {"x2": {"condition": {"test": "indexof([1,10,100,1000], datum.value) >= 0", "value": 7}, "value": 4}}}}},
        "y2": {"field": "y1"}
      }
    },
    {
      "data": {"name": "refs"},
      "mark": {"type": "rule", "stroke": "black", "strokeWidth": 1, "strokeDash": [7, 3, 1.5, 3]},
      "encoding": {
        "x": {"field": "x1", "type": "quantitative", "scale": {"domain": [0, 240], "nice": false, "zero": false},
              "axis": {"orient": "top", "values": [0, 30, 60, 90, 120, 150, 180, 210, 240], "labels": false, "tickSize": -7, "title": null}}
      }
    },
    {
      "data": {"name": "refs"},
      "mark": {"type": "rule", "stroke": "black", "strokeWidth": 1, "strokeDash": [7, 3, 1.5, 3]},
      "encoding": {
        "y": {"field": "y1", "type": "quantitative", "scale": {"type": "log", "domain": [1, 1000], "nice": false},
              "axis": {"orient": "right", "values": [1,2,3,4,5,6,7,8,9,10,20,30,40,50,60,70,80,90,100,200,300,400,500,600,700,800,900,1000],
                       "labels": false, "tickSize": -7, "title": null,
                       "encode": {"ticks": {"x2": {"condition": {"test": "indexof([1,10,100,1000], datum.value) >= 0", "value": -7}, "value": -4}}}}}
      }
    },
    {
      "data": {"name": "curves"},
      "mark": {"type": "line", "stroke": "black", "strokeWidth": 1},
      "encoding": {
        "x": {"field": "x", "type": "quantitative", "axis": null},
        "y": {"field": "y", "type": "quantitative", "axis": null},
        "detail": {"field": "s"},
        "order": {"field": "x", "type": "quantitative"}
      }
    },
    {
      "data": {"name": "curves"},
      "mark": {"type": "point", "size": 25, "strokeWidth": 1, "opacity": 1, "filled": false, "stroke": "black"},
      "encoding": {
        "x": {"field": "x", "type": "quantitative", "axis": null},
        "y": {"field": "y", "type": "quantitative", "axis": null},
        "fill": {"condition": {"test": "datum.s === 'CapEx (10%)'", "value": "black"}, "value": "transparent"},
        "shape": {
          "field": "s", "type": "nominal", "legend": null,
          "scale": {
            "domain": ["CapEx (5%)", "CapEx (10%)", "CapEx (25%)", "CapEx (50%)", "CapEx (75%)", "CapEx (100%)"],
            "range": ["M0.9,0A0.9,0.9,0,1,1,-0.9,0A0.9,0.9,0,1,1,0.9,0Z", "M-1.1,-1.1L1.1,-1.1L1.1,1.1L-1.1,1.1Z", "M-0.9,-0.9L0.9,-0.9L0.9,0.9L-0.9,0.9Z", "M-1,0L1,0M0,-1L0,1M-0.75,-0.75L0.75,0.75M-0.75,0.75L0.75,-0.75", "M-0.8,-0.8L0.8,0.8M-0.8,0.8L0.8,-0.8", "M-1,0L1,0M0,-1L0,1"]
          }
        }
      }
    },
    {
      "data": {"name": "curves"},
      "transform": [{"filter": "datum.x == 240"}],
      "mark": {"type": "point", "size": 16, "strokeWidth": 1, "opacity": 0, "filled": false},
      "encoding": {
        "x": {"field": "x", "type": "quantitative", "axis": null},
        "y": {"field": "y", "type": "quantitative", "axis": null},
        "stroke": {
          "field": "s", "type": "nominal",
          "scale": {
            "domain": ["CapEx (100%)", "CapEx (75%)", "CapEx (50%)", "CapEx (25%)", "CapEx (10%)", "CapEx (5%)"],
            "range": ["black", "black", "black", "black", "black", "black"]
          },
          "legend": {
            "title": null, "orient": "none", "legendX": 185, "legendY": 367.5, "columns": 2, "direction": "vertical",
            "padding": 0, "symbolSize": 16, "symbolStrokeWidth": 1, "symbolStrokeColor": "black", "symbolOpacity": 1,
            "labelFont": "DejaVu Sans", "labelFontSize": 19.5, "labelColor": "black", "labelAlign": "right", "labelLimit": 0,
            "labelOffset": -56, "symbolOffset": 0, "columnPadding": 52, "rowPadding": 1.5
          }
        },
        "fill": {
          "field": "s", "type": "nominal",
          "scale": {
            "domain": ["CapEx (100%)", "CapEx (75%)", "CapEx (50%)", "CapEx (25%)", "CapEx (10%)", "CapEx (5%)"],
            "range": ["transparent", "transparent", "transparent", "transparent", "black", "transparent"]
          },
          "legend": {
            "title": null, "orient": "none", "legendX": 185, "legendY": 367.5, "columns": 2, "direction": "vertical",
            "padding": 0, "symbolSize": 16, "symbolStrokeWidth": 1, "symbolStrokeColor": "black", "symbolOpacity": 1,
            "labelFont": "DejaVu Sans", "labelFontSize": 19.5, "labelColor": "black", "labelAlign": "right", "labelLimit": 0,
            "labelOffset": -56, "symbolOffset": 0, "columnPadding": 52, "rowPadding": 1.5
          }
        },
        "shape": {
          "field": "s", "type": "nominal",
          "scale": {
            "domain": ["CapEx (100%)", "CapEx (75%)", "CapEx (50%)", "CapEx (25%)", "CapEx (10%)", "CapEx (5%)"],
            "range": [
              "M-1,0L1,0M0,-1L0,1M-15.5,0L15.5,0",
              "M-0.8,-0.8L0.8,0.8M-0.8,0.8L0.8,-0.8M-15.5,0L15.5,0",
              "M-1,0L1,0M0,-1L0,1M-0.75,-0.75L0.75,0.75M-0.75,0.75L0.75,-0.75M-15.5,0L15.5,0",
              "M-1,-1L1,-1L1,1L-1,1ZM-15.5,0L15.5,0",
              "M-1.2,-1.2L1.2,-1.2L1.2,1.2L-1.2,1.2ZM-15.5,0L15.5,0",
              "M1,0A1,1,0,1,1,-1,0A1,1,0,1,1,1,0ZM-15.5,0L15.5,0"
            ]
          },
          "legend": {
            "title": null, "orient": "none", "legendX": 185, "legendY": 367.5, "columns": 2, "direction": "vertical",
            "padding": 0, "symbolSize": 16, "symbolStrokeWidth": 1, "symbolStrokeColor": "black", "symbolOpacity": 1,
            "labelFont": "DejaVu Sans", "labelFontSize": 19.5, "labelColor": "black", "labelAlign": "right", "labelLimit": 0,
            "labelOffset": -56, "symbolOffset": 0, "columnPadding": 52, "rowPadding": 1.5
          }
        }
      }
    },
    {
      "data": {"name": "note"},
      "mark": {"type": "text", "align": "left", "baseline": "alphabetic", "dx": 2, "dy": 7, "fontSize": 22, "font": "DejaVu Sans", "color": "black"},
      "encoding": {
        "x": {"field": "x", "type": "quantitative", "axis": null},
        "y": {"field": "y", "type": "quantitative", "axis": null},
        "text": {"field": "t"}
      }
    },
    {
      "data": {"name": "note"},
      "mark": {"type": "text", "align": "left", "baseline": "alphabetic", "dx": 15.5, "dy": 12, "fontSize": 15, "font": "DejaVu Sans", "color": "black"},
      "encoding": {
        "x": {"field": "x", "type": "quantitative", "axis": null},
        "y": {"field": "y", "type": "quantitative", "axis": null},
        "text": {"field": "sub"}
      }
    }
  ]
}
